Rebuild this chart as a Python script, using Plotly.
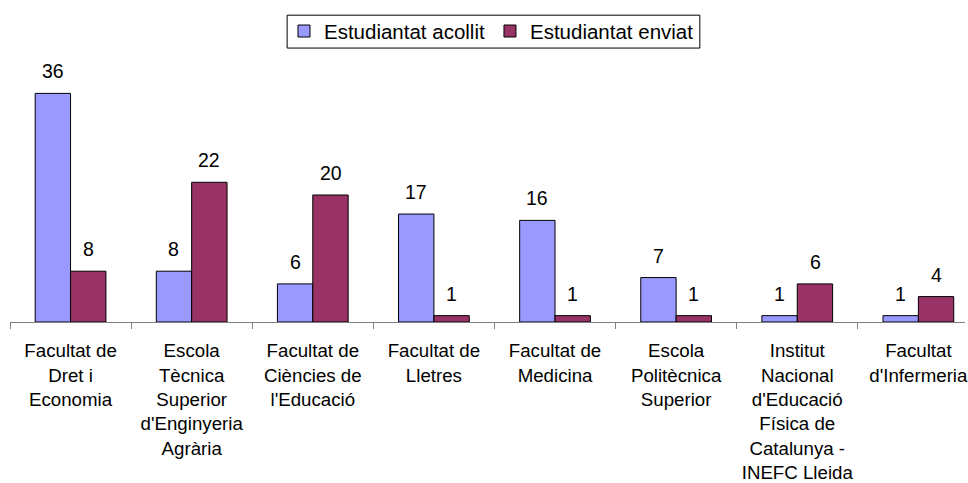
import plotly.graph_objects as go

# Centres de la Universitat de Lleida i mobilitat d'estudiants
centres = [
    "Facultat de<br>Dret i<br>Economia",
    "Escola<br>Tècnica<br>Superior<br>d'Enginyeria<br>Agrària",
    "Facultat de<br>Ciències de<br>l'Educació",
    "Facultat de<br>Lletres",
    "Facultat de<br>Medicina",
    "Escola<br>Politècnica<br>Superior",
    "Institut<br>Nacional<br>d'Educació<br>Física de<br>Catalunya -<br>INEFC Lleida",
    "Facultat<br>d'Infermeria",
]
acollit = [36, 8, 6, 17, 16, 7, 1, 1]
enviat = [8, 22, 20, 1, 1, 1, 6, 4]

FONT = "Liberation Sans, Arial, sans-serif"
W, H = 968, 483
M_L, M_R, M_T, M_B = 10, 0, 61, 160
X_RANGE = [-0.5, 7.385]
Y_RANGE = [0, 41.1]
BAR_HALF = 17.75  # half of one bar's drawn width in px (offset from category centre)


def px_to_paper_x(px):
    return (px - M_L) / (W - M_L - M_R)


def px_to_paper_y(py):
    return (H - M_B - py) / (H - M_T - M_B)


fig = go.Figure()
fig.add_trace(go.Bar(
    x=centres, y=acollit, name="Estudiantat acollit",
    marker=dict(color="#9999FF", line=dict(color="#000000", width=1)),
))
fig.add_trace(go.Bar(
    x=centres, y=enviat, name="Estudiantat enviat",
    marker=dict(color="#993366", line=dict(color="#000000", width=1)),
))

# Value labels above each bar
annotations = []
for series, shift in ((acollit, -BAR_HALF), (enviat, BAR_HALF)):
    for i, v in enumerate(series):
        annotations.append(dict(
            x=i, y=v, xref="x", yref="y", text=str(v), showarrow=False,
            xanchor="center", yanchor="bottom", xshift=shift, yshift=9,
            font=dict(family=FONT, size=19.5, color="#000000"),
        ))

fig.update_layout(
    width=W, height=H,
    margin=dict(l=M_L, r=M_R, t=M_T, b=M_B),
    paper_bgcolor="white", plot_bgcolor="white",
    barmode="group", bargap=0.416, bargroupgap=0,
    font=dict(family=FONT, size=18, color="#000000"),
    showlegend=True,
    legend=dict(
        orientation="h", x=px_to_paper_x(493), xanchor="center",
        y=px_to_paper_y(11), yanchor="top",
        borderwidth=0, bgcolor="rgba(0,0,0,0)",
        font=dict(family=FONT, size=20.5, color="#000000"),
        itemclick=False,
    ),
    shapes=[dict(
        type="rect", xref="paper", yref="paper",
        x0=px_to_paper_x(288), x1=px_to_paper_x(702),
        y0=px_to_paper_y(48), y1=px_to_paper_y(15),
        line=dict(color="#000000", width=1), fillcolor="rgba(0,0,0,0)",
        layer="below",
    )],
    annotations=annotations,
    xaxis=dict(
        type="category", range=X_RANGE, showgrid=False, zeroline=False,
        showline=True, linecolor="#808080", linewidth=1,
        ticks="outside", tickson="boundaries", ticklen=6, tickcolor="#808080",
        tickangle=0, ticklabelstandoff=12, ticklabeloverflow="allow",
        tickfont=dict(family=FONT, size=18.7, color="#000000"),
    ),
    yaxis=dict(
        range=Y_RANGE, visible=False, showgrid=False, zeroline=False,
    ),
)

fig.write_html("out.html")
